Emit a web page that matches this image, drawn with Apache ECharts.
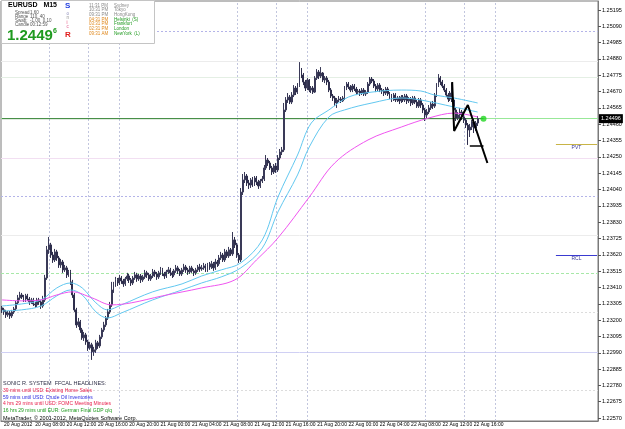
<!DOCTYPE html>
<html>
<head>
<meta charset="utf-8">
<title>EURUSD M15</title>
<script src="https://cdn.jsdelivr.net/npm/echarts@6/dist/echarts.min.js"></script>
<style>
  html, body { margin: 0; padding: 0; background: #fff; }
  #chart { width: 625px; height: 429px; }
</style>
</head>
<body>
<div id="chart"></div>
<script>
// EURUSD M15, 20 Aug 04:00 -> 22 Aug 15:45 (2012), Sonic R template
var slotCount = 305;   // bar slots across the window (chart shifted left)
var tickLabels = ['20 Aug 2012', '20 Aug 08:00', '20 Aug 12:00', '20 Aug 16:00', '20 Aug 20:00',
  '21 Aug 00:00', '21 Aug 04:00', '21 Aug 08:00', '21 Aug 12:00', '21 Aug 16:00', '21 Aug 20:00',
  '22 Aug 00:00', '22 Aug 04:00', '22 Aug 08:00', '22 Aug 12:00', '22 Aug 16:00'];
var yTicks = [1.22570, 1.22675, 1.22780, 1.22885, 1.22990, 1.23095, 1.23200, 1.23305, 1.23410,
  1.23515, 1.23620, 1.23725, 1.23830, 1.23935, 1.24040, 1.24145, 1.24250, 1.24355, 1.24460,
  1.24565, 1.24670, 1.24775, 1.24880, 1.24985, 1.25090, 1.25195];

// [open, close, low, high]
var ohlc = [
[1.23279,1.23266,1.23246,1.23291],[1.23266,1.23253,1.23234,1.23279],[1.23253,1.23234,1.23214,1.23266],[1.23234,1.23246,1.23221,1.23259],
[1.23246,1.23227,1.23208,1.23259],[1.23227,1.23253,1.23214,1.23266],[1.23253,1.23272,1.23240,1.23285],[1.23272,1.23311,1.23259,1.23324],
[1.23311,1.23343,1.23298,1.23362],[1.23343,1.23362,1.23330,1.23382],[1.23362,1.23349,1.23336,1.23375],[1.23349,1.23330,1.23317,1.23362],
[1.23330,1.23356,1.23317,1.23369],[1.23356,1.23336,1.23324,1.23369],[1.23336,1.23317,1.23298,1.23349],[1.23317,1.23330,1.23304,1.23343],
[1.23330,1.23304,1.23291,1.23343],[1.23304,1.23298,1.23279,1.23317],[1.23298,1.23330,1.23285,1.23343],[1.23330,1.23317,1.23298,1.23343],
[1.23317,1.23291,1.23272,1.23330],[1.23291,1.23330,1.23279,1.23356],[1.23330,1.23471,1.23317,1.23491],[1.23471,1.23652,1.23459,1.23677],
[1.23652,1.23684,1.23626,1.23735],[1.23684,1.23619,1.23600,1.23697],[1.23619,1.23587,1.23568,1.23639],[1.23587,1.23639,1.23574,1.23658],
[1.23639,1.23600,1.23581,1.23652],[1.23600,1.23555,1.23536,1.23613],[1.23555,1.23574,1.23536,1.23594],[1.23574,1.23523,1.23504,1.23587],
[1.23523,1.23536,1.23510,1.23555],[1.23536,1.23491,1.23471,1.23549],[1.23491,1.23510,1.23478,1.23523],[1.23510,1.23446,1.23426,1.23523],
[1.23446,1.23362,1.23343,1.23459],[1.23362,1.23266,1.23253,1.23375],[1.23266,1.23169,1.23150,1.23279],[1.23169,1.23189,1.23156,1.23214],
[1.23189,1.23137,1.23118,1.23201],[1.23137,1.23086,1.23073,1.23150],[1.23086,1.23105,1.23066,1.23124],[1.23105,1.23060,1.23041,1.23118],
[1.23060,1.23021,1.23002,1.23073],[1.23021,1.23041,1.23009,1.23060],[1.23041,1.22996,1.22944,1.23054],[1.22996,1.23009,1.22970,1.23028],
[1.23009,1.23054,1.22989,1.23073],[1.23054,1.23034,1.23015,1.23066],[1.23034,1.23092,1.23021,1.23105],[1.23092,1.23137,1.23079,1.23150],
[1.23137,1.23169,1.23124,1.23189],[1.23169,1.23214,1.23156,1.23227],[1.23214,1.23253,1.23201,1.23272],[1.23253,1.23298,1.23240,1.23317],
[1.23298,1.23394,1.23285,1.23446],[1.23394,1.23426,1.23375,1.23446],[1.23426,1.23459,1.23414,1.23478],[1.23459,1.23439,1.23420,1.23471],
[1.23439,1.23471,1.23426,1.23491],[1.23471,1.23452,1.23433,1.23484],[1.23452,1.23433,1.23414,1.23465],[1.23433,1.23465,1.23420,1.23478],
[1.23465,1.23484,1.23452,1.23504],[1.23484,1.23459,1.23439,1.23497],[1.23459,1.23439,1.23420,1.23471],[1.23439,1.23471,1.23426,1.23484],
[1.23471,1.23491,1.23459,1.23510],[1.23491,1.23465,1.23446,1.23504],[1.23465,1.23484,1.23452,1.23497],[1.23484,1.23459,1.23439,1.23497],
[1.23459,1.23478,1.23446,1.23491],[1.23478,1.23504,1.23465,1.23523],[1.23504,1.23491,1.23471,1.23517],[1.23491,1.23465,1.23452,1.23504],
[1.23465,1.23484,1.23452,1.23497],[1.23484,1.23510,1.23471,1.23529],[1.23510,1.23497,1.23478,1.23523],[1.23497,1.23478,1.23459,1.23510],
[1.23478,1.23504,1.23465,1.23517],[1.23504,1.23523,1.23491,1.23542],[1.23523,1.23497,1.23484,1.23536],[1.23497,1.23484,1.23465,1.23510],
[1.23484,1.23510,1.23471,1.23523],[1.23510,1.23523,1.23497,1.23542],[1.23523,1.23504,1.23484,1.23536],[1.23504,1.23491,1.23471,1.23517],
[1.23491,1.23517,1.23478,1.23529],[1.23517,1.23536,1.23504,1.23555],[1.23536,1.23517,1.23497,1.23549],[1.23517,1.23497,1.23484,1.23529],
[1.23497,1.23523,1.23484,1.23536],[1.23523,1.23542,1.23510,1.23562],[1.23542,1.23523,1.23504,1.23555],[1.23523,1.23510,1.23491,1.23536],
[1.23510,1.23536,1.23497,1.23549],[1.23536,1.23517,1.23504,1.23549],[1.23517,1.23504,1.23484,1.23529],[1.23504,1.23523,1.23491,1.23536],
[1.23523,1.23542,1.23510,1.23555],[1.23542,1.23529,1.23510,1.23562],[1.23529,1.23536,1.23517,1.23555],[1.23536,1.23549,1.23523,1.23568],
[1.23549,1.23523,1.23510,1.23562],[1.23523,1.23555,1.23510,1.23568],[1.23555,1.23542,1.23523,1.23574],[1.23542,1.23562,1.23529,1.23581],
[1.23562,1.23536,1.23517,1.23574],[1.23536,1.23574,1.23523,1.23594],[1.23574,1.23562,1.23542,1.23587],[1.23562,1.23600,1.23549,1.23619],
[1.23600,1.23619,1.23587,1.23639],[1.23619,1.23587,1.23574,1.23632],[1.23587,1.23639,1.23574,1.23658],[1.23639,1.23613,1.23600,1.23652],
[1.23613,1.23652,1.23600,1.23671],[1.23652,1.23626,1.23613,1.23664],[1.23626,1.23716,1.23613,1.23767],[1.23716,1.23684,1.23664,1.23735],
[1.23684,1.23619,1.23600,1.23697],[1.23619,1.23587,1.23568,1.23632],[1.23587,1.24024,1.23574,1.24050],[1.24024,1.24102,1.24005,1.24140],
[1.24102,1.24127,1.24082,1.24153],[1.24127,1.24082,1.24063,1.24140],[1.24082,1.24069,1.24044,1.24102],[1.24069,1.24102,1.24050,1.24114],
[1.24102,1.24076,1.24057,1.24121],[1.24076,1.24114,1.24063,1.24127],[1.24114,1.24089,1.24069,1.24127],[1.24089,1.24063,1.24044,1.24102],
[1.24063,1.24095,1.24050,1.24108],[1.24095,1.24108,1.24082,1.24127],[1.24108,1.24179,1.24095,1.24198],[1.24179,1.24230,1.24166,1.24262],
[1.24230,1.24211,1.24192,1.24243],[1.24211,1.24179,1.24166,1.24224],[1.24179,1.24153,1.24134,1.24192],[1.24153,1.24192,1.24140,1.24204],
[1.24192,1.24166,1.24147,1.24211],[1.24166,1.24243,1.24153,1.24262],[1.24243,1.24282,1.24230,1.24301],[1.24282,1.24295,1.24262,1.24314],
[1.24295,1.24552,1.24282,1.24597],[1.24552,1.24616,1.24539,1.24635],[1.24616,1.24635,1.24597,1.24661],[1.24635,1.24603,1.24590,1.24648],
[1.24603,1.24648,1.24590,1.24667],[1.24648,1.24693,1.24635,1.24712],[1.24693,1.24667,1.24648,1.24706],[1.24667,1.24712,1.24655,1.24725],
[1.24712,1.24809,1.24700,1.24860],[1.24809,1.24777,1.24757,1.24822],[1.24777,1.24732,1.24712,1.24790],[1.24732,1.24693,1.24674,1.24745],
[1.24693,1.24745,1.24680,1.24757],[1.24745,1.24680,1.24667,1.24751],[1.24680,1.24693,1.24661,1.24706],[1.24693,1.24667,1.24655,1.24706],
[1.24667,1.24757,1.24661,1.24770],[1.24757,1.24796,1.24745,1.24815],[1.24796,1.24770,1.24751,1.24809],[1.24770,1.24790,1.24757,1.24828],
[1.24790,1.24745,1.24732,1.24796],[1.24745,1.24757,1.24725,1.24770],[1.24757,1.24732,1.24712,1.24770],[1.24732,1.24680,1.24667,1.24745],
[1.24680,1.24642,1.24629,1.24693],[1.24642,1.24629,1.24610,1.24655],[1.24629,1.24597,1.24577,1.24642],[1.24597,1.24616,1.24565,1.24629],
[1.24616,1.24622,1.24603,1.24642],[1.24622,1.24610,1.24597,1.24635],[1.24610,1.24629,1.24603,1.24642],[1.24629,1.24693,1.24616,1.24706],
[1.24693,1.24719,1.24680,1.24732],[1.24719,1.24700,1.24687,1.24732],[1.24700,1.24680,1.24667,1.24712],[1.24680,1.24706,1.24667,1.24719],
[1.24706,1.24687,1.24674,1.24719],[1.24687,1.24667,1.24648,1.24700],[1.24667,1.24674,1.24655,1.24687],[1.24674,1.24661,1.24642,1.24687],
[1.24661,1.24680,1.24648,1.24693],[1.24680,1.24655,1.24642,1.24693],[1.24655,1.24667,1.24642,1.24680],[1.24667,1.24719,1.24655,1.24732],
[1.24719,1.24751,1.24706,1.24764],[1.24751,1.24738,1.24725,1.24764],[1.24738,1.24706,1.24693,1.24751],[1.24706,1.24687,1.24667,1.24719],
[1.24687,1.24712,1.24674,1.24725],[1.24712,1.24680,1.24667,1.24725],[1.24680,1.24674,1.24655,1.24693],[1.24674,1.24661,1.24642,1.24687],
[1.24661,1.24687,1.24648,1.24700],[1.24687,1.24655,1.24642,1.24700],[1.24655,1.24642,1.24622,1.24667],[1.24642,1.24622,1.24603,1.24655],
[1.24622,1.24648,1.24610,1.24661],[1.24648,1.24616,1.24603,1.24661],[1.24616,1.24629,1.24603,1.24642],[1.24629,1.24610,1.24590,1.24642],
[1.24610,1.24635,1.24597,1.24648],[1.24635,1.24616,1.24603,1.24648],[1.24616,1.24642,1.24603,1.24655],[1.24642,1.24610,1.24590,1.24655],
[1.24610,1.24622,1.24597,1.24635],[1.24622,1.24597,1.24577,1.24635],[1.24597,1.24629,1.24584,1.24642],[1.24629,1.24603,1.24590,1.24642],
[1.24603,1.24577,1.24565,1.24616],[1.24577,1.24616,1.24565,1.24629],[1.24616,1.24584,1.24565,1.24629],[1.24584,1.24552,1.24532,1.24597],
[1.24552,1.24520,1.24481,1.24565],[1.24520,1.24539,1.24500,1.24558],[1.24539,1.24565,1.24526,1.24584],[1.24565,1.24590,1.24552,1.24603],
[1.24590,1.24577,1.24558,1.24610],[1.24577,1.24648,1.24565,1.24661],[1.24648,1.24712,1.24635,1.24725],[1.24712,1.24757,1.24700,1.24783],
[1.24757,1.24732,1.24712,1.24770],[1.24732,1.24706,1.24693,1.24745],[1.24706,1.24680,1.24667,1.24719],[1.24680,1.24648,1.24635,1.24693],
[1.24648,1.24622,1.24603,1.24661],[1.24622,1.24661,1.24610,1.24674],[1.24661,1.24616,1.24603,1.24725],[1.24616,1.24552,1.24532,1.24629],
[1.24552,1.24500,1.24481,1.24565],[1.24500,1.24520,1.24487,1.24539],[1.24520,1.24539,1.24500,1.24565],[1.24539,1.24507,1.24487,1.24552],
[1.24507,1.24487,1.24468,1.24526],[1.24487,1.24455,1.24436,1.24500],[1.24455,1.24423,1.24327,1.24468],[1.24423,1.24442,1.24378,1.24462],
[1.24442,1.24475,1.24423,1.24487],[1.24475,1.24436,1.24404,1.24494],[1.24436,1.24468,1.24417,1.24481],[1.24468,1.24496,1.24449,1.24513]
];

// Sonic R dragon (EMA34 high / low) and trend EMA89, read at [bar, price]
var dragonHigh = [[0,1.23291],[10,1.23304],[20,1.23330],[28,1.23407],[35,1.23439],[41,1.23407],[48,1.23311],
  [54,1.23266],[61,1.23298],[77,1.23382],[92,1.23433],[102,1.23484],[112,1.23523],[122,1.23568],[133,1.23716],
  [141,1.23992],[151,1.24262],[158,1.24468],[167,1.24552],[177,1.24635],[189,1.24667],[204,1.24680],
  [214,1.24674],[221,1.24648],[231,1.24629],[243,1.24597]];
var dragonLow = [[0,1.23259],[10,1.23266],[20,1.23291],[28,1.23356],[35,1.23394],[41,1.23362],[48,1.23253],
  [54,1.23214],[61,1.23246],[77,1.23330],[92,1.23394],[102,1.23439],[112,1.23478],[122,1.23536],[133,1.23664],
  [141,1.23896],[151,1.24134],[157,1.24314],[167,1.24507],[175,1.24552],[189,1.24597],[204,1.24629],
  [214,1.24616],[231,1.24571],[243,1.24539]];
var ema89 = [[0,1.23330],[10,1.23324],[20,1.23330],[28,1.23362],[36,1.23382],[46,1.23343],[56,1.23298],
  [66,1.23311],[82,1.23356],[102,1.23407],[119,1.23459],[130,1.23587],[141,1.23729],[157,1.23992],
  [170,1.24211],[187,1.24359],[204,1.24442],[218,1.24500],[231,1.24532],[243,1.24507]];

var bidPrice = 1.24496;
var bidBar = 246;
var zigzag = [[230,1.24732],[231,1.24417],[238,1.24584],[248,1.24211]];
var zigTarget = [[239,1.24320],[246,1.24320]];
var sessionBars = [24, 44, 60, 120, 140, 156, 216, 236, 252];
var levelPrices = [1.25060, 1.24867, 1.24764, 1.24243, 1.23998, 1.23748, 1.23504, 1.23253, 1.22996, 1.22750];
var levelStyles = [
  {color: '#b4b4e8', type: [2, 2]}, {color: '#ececec', type: 'solid'}, {color: '#e4efe4', type: 'solid'},
  {color: '#f2dff2', type: 'solid'}, {color: '#b4b4e8', type: [2, 2]}, {color: '#ececec', type: 'solid'},
  {color: '#a8e8a8', type: [3, 2]}, {color: '#dcdcdc', type: [2, 2]}, {color: '#d0d0f4', type: 'solid'},
  {color: '#dcdcdc', type: [2, 2]}
];
var pvtLevel = 1.24333;
var rclLevel = 1.23619;
var pivotFromBar = 283;

// panel texts
var infoNames = ['Spread', 'Range', 'Swap:', 'Candle'];
var infoValues = ['1.60', '110, 40', '-1.00  0.10', '00:12:59'];
var sonicLetters = ['S', 'o', 'n', 'i', 'c', 'R'];
var sessionTimes = ['11:31 PM', '10:31 PM', '09:31 PM', '04:31 PM', '03:31 PM', '02:31 PM', '09:31 AM'];
var sessionCities = ['Sydney', 'Tokyo', 'HongKong', 'Helsinki  (S)', 'Frankfurt', 'London', 'NewYork  (L)'];
var headlines = ['39 mins until USD: Existing Home Sales', '59 mins until USD: Crude Oil Inventories',
  '4 hrs 29 mins until USD: FOMC Meeting Minutes', '16 hrs 29 mins until EUR: German Final GDP q/q'];
var headlineColors = ['#e8204c', '#2a2ae0', '#e8204c', '#1e9a1e'];

var FONT = '"Liberation Sans", Arial, sans-serif';
var cats = [];
for (var i = 0; i < slotCount; i++) cats.push(String(i));

function tickAt(idx) { return idx % 16 === 0 && idx / 16 < tickLabels.length; }

var graphics = [
  {type: 'rect', shape: {x: 1.5, y: 0.5, width: 153, height: 43}, style: {fill: '#fff', stroke: '#c4c4c4', lineWidth: 1}, z: 100},
  {type: 'text', x: 8, y: 2, z: 101, style: {text: 'EURUSD   M15', fill: '#000', font: 'bold 7px ' + FONT}},
  {type: 'text', x: 7, y: 28, z: 101, style: {text: bidPrice.toFixed(5).slice(0, 6), fill: '#1f9a1f', font: 'bold 15px ' + FONT}},
  {type: 'text', x: 53, y: 28, z: 101, style: {text: bidPrice.toFixed(5).slice(6), fill: '#1f9a1f', font: 'bold 7px ' + FONT}},
  {type: 'text', x: 3, y: 380, z: 101, style: {text: 'SONIC R. SYSTEM  FFCAL HEADLINES:', fill: '#303048', font: '5.5px ' + FONT}},
  {type: 'text', x: 3, y: 415.5, z: 101, style: {text: 'MetaTrader, \u00a9 2001-2012, MetaQuotes Software Corp.', fill: '#000', font: '5.5px ' + FONT}}
];
infoNames.forEach(function (n, k) {
  graphics.push({type: 'text', x: 15, y: 10.5 + k * 3.9, z: 101, style: {text: n, fill: '#555', font: '4.5px ' + FONT}});
  graphics.push({type: 'text', x: 30, y: 10.5 + k * 3.9, z: 101, style: {text: infoValues[k], fill: '#555', font: '4.5px ' + FONT}});
});
var sonicColors = ['#2440e0', '#8a8ab8', '#909090', '#e04070', '#e06090', '#e01c1c'];
sonicLetters.forEach(function (c, k) {
  var big = (k === 0 || k === sonicLetters.length - 1);
  var yy = [2, 11, 15.5, 20, 24.5, 31][k];
  graphics.push({type: 'text', x: big ? 65 : 66.5, y: yy, z: 101,
    style: {text: c, fill: sonicColors[k], font: (big ? 'bold 8px ' : '4.5px ') + FONT}});
});
sessionTimes.forEach(function (t, k) {
  var open = k >= 3;
  graphics.push({type: 'text', x: 89, y: 3 + k * 4.65, z: 101, style: {text: t, fill: open ? '#e08a20' : '#8a8a8a', font: '4.5px ' + FONT}});
  graphics.push({type: 'text', x: 114, y: 3 + k * 4.65, z: 101, style: {text: sessionCities[k], fill: open ? '#1e9a1e' : '#8a8a8a', font: '4.5px ' + FONT}});
});
headlines.forEach(function (h, k) {
  graphics.push({type: 'text', x: 3, y: 388 + k * 6.8, z: 101, style: {text: h, fill: headlineColors[k], font: '5px ' + FONT}});
});

var markData = [];
levelPrices.forEach(function (p, k) {
  markData.push({yAxis: p, lineStyle: {color: levelStyles[k].color, type: levelStyles[k].type, width: 1}});
});
sessionBars.forEach(function (b) {
  markData.push({xAxis: b, lineStyle: {color: '#c2c6de', type: [2, 2], width: 1}});
});
markData.push({yAxis: bidPrice, lineStyle: {color: '#98e898', type: 'solid', width: 1},
  label: {show: true, position: 'end', distance: 1, formatter: bidPrice.toFixed(5), color: '#fff',
    backgroundColor: '#000', fontSize: 5.5, fontFamily: FONT, padding: [2, 2, 1, 2]}});
markData.push([
  {coord: [pivotFromBar, pvtLevel], lineStyle: {color: '#c8b446', type: 'solid', width: 1},
    label: {show: true, position: 'insideMiddleBottom', distance: 1, formatter: 'PVT', color: '#3a3a9a', fontSize: 5, fontFamily: FONT}},
  {coord: [slotCount - 1, pvtLevel]}
]);
markData.push([
  {coord: [pivotFromBar, rclLevel], lineStyle: {color: '#3a3ad0', type: 'solid', width: 1},
    label: {show: true, position: 'insideMiddleBottom', distance: 1, formatter: 'RCL', color: '#3a3a9a', fontSize: 5, fontFamily: FONT}},
  {coord: [slotCount - 1, rclLevel]}
]);

var chart = echarts.init(document.getElementById('chart'), null, {renderer: 'canvas'});
chart.setOption({
  animation: false,
  backgroundColor: '#fff',
  textStyle: {fontFamily: FONT},
  grid: {left: 1, right: 27, top: 1, bottom: 8, containLabel: false, outerBoundsMode: 'none',
    show: true, borderColor: '#7a7a7a', borderWidth: 1},
  xAxis: {
    type: 'category', data: cats, boundaryGap: true,
    axisLine: {lineStyle: {color: '#7a7a7a', width: 1}},
    axisTick: {interval: function (idx) { return tickAt(idx); }, alignWithLabel: true, length: 3, lineStyle: {color: '#555'}},
    axisLabel: {
      interval: function (idx) { return tickAt(idx); },
      formatter: function (v, idx) { return tickLabels[idx / 16]; },
      align: 'left', padding: [0, 0, 0, 2], margin: 1.5, fontSize: 5, color: '#000', hideOverlap: false
    },
    splitLine: {show: false}
  },
  yAxis: {
    type: 'value', position: 'right', min: 1.22551, max: 1.25253, scale: true,
    axisLine: {show: true, lineStyle: {color: '#7a7a7a', width: 1}},
    axisTick: {show: true, customValues: yTicks, length: 3, lineStyle: {color: '#555'}},
    axisLabel: {customValues: yTicks, formatter: function (v) { return v.toFixed(5); },
      margin: 4, fontSize: 5.5, color: '#000'},
    splitLine: {show: false}
  },
  graphic: graphics,
  series: [
    {name: 'Levels', type: 'line', data: [], z: 1,
      markLine: {silent: true, symbol: 'none', animation: false, precision: 5, z: 1, label: {show: false}, data: markData}},
    {name: 'Bid', type: 'line', data: [[0, bidPrice], [bidBar, bidPrice]], symbol: 'none', z: 3,
      lineStyle: {color: '#3a7e3a', width: 1}},
    {
      name: 'EURUSD', type: 'candlestick', data: ohlc, barWidth: 1.4, z: 3,
      itemStyle: {color: '#b4b4c6', color0: '#2e2e4c', borderColor: '#3a3a58', borderColor0: '#2e2e4c', borderWidth: 1}
    },
    {name: 'Dragon high', type: 'line', data: dragonHigh, smooth: 0.35, symbol: 'none', z: 4,
      lineStyle: {color: '#62c8f0', width: 1}},
    {name: 'Dragon low', type: 'line', data: dragonLow, smooth: 0.35, symbol: 'none', z: 4,
      lineStyle: {color: '#62c8f0', width: 1}},
    {name: 'EMA89', type: 'line', data: ema89, smooth: 0.35, symbol: 'none', z: 4,
      lineStyle: {color: '#f055f0', width: 1}},
    {name: 'ZigZag', type: 'line', data: zigzag, symbol: 'none', z: 6,
      lineStyle: {color: '#000', width: 2}},
    {name: 'Target', type: 'line', data: zigTarget, symbol: 'none', z: 6,
      lineStyle: {color: '#000', width: 1.5}},
    {name: 'Now', type: 'scatter', data: [[bidBar, bidPrice]], symbolSize: 6, z: 7,
      itemStyle: {color: '#22d622'}}
  ]
});
</script>
</body>
</html>
